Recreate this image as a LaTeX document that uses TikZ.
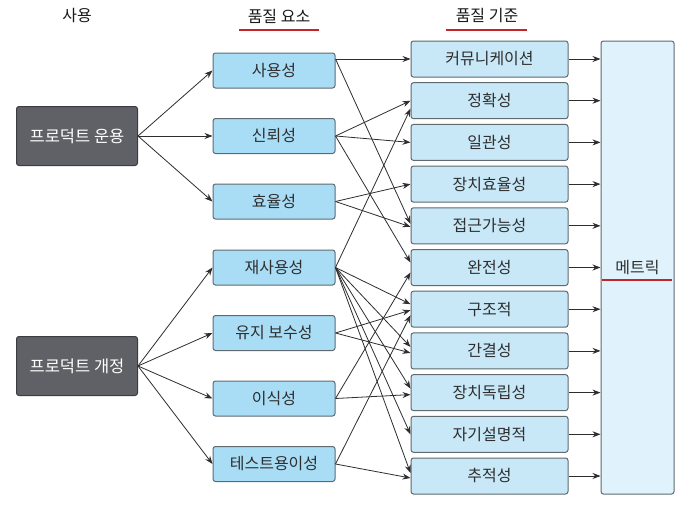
\documentclass[tikz,border=0pt]{standalone}
\usepackage{fontspec}
\setmainfont{Noto Sans CJK KR}
\usetikzlibrary{arrows.meta}
\definecolor{darkbox}{HTML}{606166}
\definecolor{darkline}{HTML}{3C3C40}
\definecolor{factorblue}{HTML}{A9DDF6}
\definecolor{critblue}{HTML}{C8E8F8}
\definecolor{metricblue}{HTML}{E0F2FC}
\definecolor{boxline}{HTML}{5E6A70}
\definecolor{linegray}{HTML}{2E2E30}
\definecolor{ulred}{HTML}{C0262C}
\definecolor{txt}{HTML}{2E2E2E}
\begin{document}
\begin{tikzpicture}[x=1pt,y=-1pt,>={Stealth[length=8pt,width=6pt]},
  font=\fontsize{16}{19}\selectfont,text=txt,
  head/.style={text=black!90},
  usebox/.style={draw=darkline,fill=darkbox,text=white,font=\fontsize{16.5}{19}\selectfont,rounded corners=2.5pt,line width=1pt,minimum width=121pt,minimum height=59pt},
  factor/.style={draw=boxline,fill=factorblue,rounded corners=2.5pt,line width=1pt,minimum width=122pt,minimum height=35pt},
  crit/.style={draw=boxline,fill=critblue,rounded corners=2.5pt,line width=1pt,minimum width=157pt,minimum height=36pt},
  metric/.style={draw=boxline,fill=metricblue,rounded corners=2.5pt,line width=1pt,minimum width=73pt,minimum height=453pt},
  conn/.style={->,draw=linegray,line width=0.8pt},
  uline/.style={draw=ulred,line width=2.6pt}]
\useasboundingbox[fill=white](0,0) rectangle (694,514);

\node[head](H1) at (77,16){사용};
\node[head](H2) at (279,16){품질 요소};
\node[head](H3) at (487,16){품질 기준};
\draw[uline](239,30)--(319,30);
\draw[uline](446,30)--(527,30);

\node[usebox](A1) at (77,136){프로덕트 운용};
\node[usebox](A2) at (77,366){프로덕트 개정};

\node[factor](B1) at (274,70.5){사용성};
\node[factor](B2) at (274,136){신뢰성};
\node[factor](B3) at (274,201.5){효율성};
\node[factor](B4) at (274,267.5){재사용성};
\node[factor](B5) at (274,333){유지 보수성};
\node[factor](B6) at (274,398.5){이식성};
\node[factor](B7) at (274,464){테스트용이성};

\node[crit](C1) at (489.5,59){커뮤니케이션};
\node[crit](C2) at (489.5,100.7){정확성};
\node[crit](C3) at (489.5,142.4){일관성};
\node[crit](C4) at (489.5,184.1){장치효율성};
\node[crit](C5) at (489.5,225.8){접근가능성};
\node[crit](C6) at (489.5,267.5){완전성};
\node[crit](C7) at (489.5,309.2){구조적};
\node[crit](C8) at (489.5,350.9){간결성};
\node[crit](C9) at (489.5,392.6){장치독립성};
\node[crit](C10) at (489.5,434.3){자기설명적};
\node[crit](C11) at (489.5,476){추적성};

\node[metric](D) at (637.5,267.5){메트릭};
\draw[uline](602,280)--(672,280);

% 사용 -> 품질 요소
\draw[conn](A1.east)--(B1.west);
\draw[conn](A1.east)--(B2.west);
\draw[conn](A1.east)--(B3.west);
\draw[conn](A2.east)--(B4.west);
\draw[conn](A2.east)--(B5.west);
\draw[conn](A2.east)--(B6.west);
\draw[conn](A2.east)--(B7.west);

% 품질 요소 -> 품질 기준
\draw[conn](B1.east|-C1.west)--(C1.west);
\draw[conn](B1.east|-C1.west)--([yshift=2pt]C5.west);
\draw[conn](B2.east)--(C2.west);
\draw[conn](B2.east)--(C3.west);
\draw[conn](B2.east)--([yshift=5pt]C6.west);
\draw[conn](B3.east)--(C4.west);
\draw[conn](B3.east)--([yshift=-1pt]C5.west);
\draw[conn](B4.east)--([yshift=-8pt]C2.west);
\draw[conn](B4.east)--([yshift=5pt]C7.west);
\draw[conn](B4.east)--([yshift=4pt]C8.west);
\draw[conn](B4.east)--([yshift=4pt]C9.west);
\draw[conn](B4.east)--(C10.west);
\draw[conn](B4.east)--([yshift=3pt]C11.west);
\draw[conn](B5.east)--([yshift=-1pt]C7.west);
\draw[conn](B5.east)--([yshift=-2pt]C8.west);
\draw[conn](B6.east)--([yshift=-5pt]C6.west);
\draw[conn](B6.east)--([yshift=-2pt]C9.west);
\draw[conn](B7.east)--([yshift=-6pt]C7.west);
\draw[conn](B7.east)--([yshift=-2pt]C11.west);

% 품질 기준 -> 메트릭
\draw[conn](C1.east)--(C1.east-|D.west);
\draw[conn](C2.east)--(C2.east-|D.west);
\draw[conn](C3.east)--(C3.east-|D.west);
\draw[conn](C4.east)--(C4.east-|D.west);
\draw[conn](C5.east)--(C5.east-|D.west);
\draw[conn](C6.east)--(C6.east-|D.west);
\draw[conn](C7.east)--(C7.east-|D.west);
\draw[conn](C8.east)--(C8.east-|D.west);
\draw[conn](C9.east)--(C9.east-|D.west);
\draw[conn](C10.east)--(C10.east-|D.west);
\draw[conn](C11.east)--(C11.east-|D.west);
\end{tikzpicture}
\end{document}
